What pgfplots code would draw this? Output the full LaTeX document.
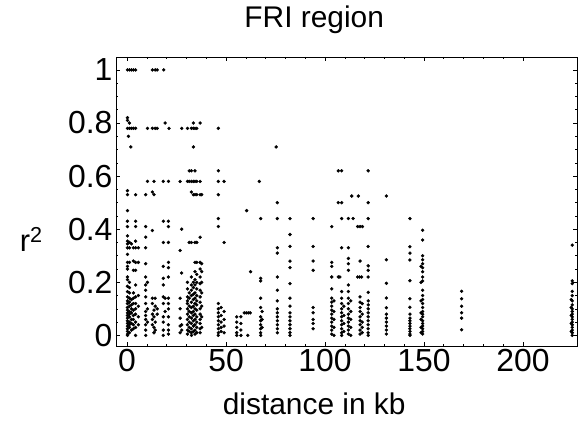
\documentclass[border=0pt]{standalone}
\usepackage{fontspec}
\setmainfont{Liberation Sans}
\usepackage{pgfplots}
\pgfplotsset{compat=1.18}
\begin{document}
\begin{tikzpicture}
\begin{axis}[
  name=ax,
  scale only axis,
  width=461bp, height=289bp,
  xmin=-5.6, xmax=227.3,
  ymin=-0.04, ymax=1.0487,
  xtick={0,50,100,150,200},
  minor x tick num=4,
  ytick={0,0.2,0.4,0.6,0.8,1},
  minor y tick num=3,
  tick align=inside,
  major tick length=4bp,
  minor tick length=2.5bp,
  axis line style={line width=0.8bp},
  every tick/.style={black,line width=0.6bp},
  /pgf/number format/assume math mode=true,
  tick label style={font=\fontsize{32}{37}\selectfont},
  title={FRI region},
  title style={font=\fontsize{30}{35}\selectfont, at={(0.43,1)}, anchor=base, yshift=23.7bp},
  xlabel={distance in kb},
  xlabel style={font=\fontsize{30}{35}\selectfont, at={(0.43,0)}, anchor=base, yshift=-68bp},
  ylabel={r\textsuperscript{2}},
  ylabel style={font=\fontsize{31}{36}\selectfont, at={(-0.184,0.367)}, anchor=center, rotate=-90},
]
\addplot[only marks, mark=*, mark size=1.5pt, black] coordinates {
(0.2,1.0)(0.2,0.82)(0.2,0.81)(0.2,0.78)(0.7,0.75)(0.2,0.545)(0.2,0.53)(0.2,0.47)(0.2,0.43)(0.2,0.41)(0.2,0.375)(0.2,0.355)(0.2,0.345)(0.2,0.33)(0.2,0.305)(0.2,0.275)(0.2,0.26)(0.2,0.25)(0.2,0.22)(0.2,0.21)(0.2,0.185)(0.2,0.165)(0.2,0.145)(0.2,0.13)(0.2,0.12)(0.2,0.105)(0.2,0.095)(0.2,0.085)(0.2,0.075)(0.2,0.065)(0.2,0.055)(0.2,0.045)(0.2,0.035)(0.2,0.025)(0.2,0.015)(0.2,0.005)(0.2,0.0)
(1.2,1.0)(1.2,0.80)(1.2,0.78)(1.2,0.35)(1.2,0.33)(1.2,0.275)(1.2,0.2)(1.2,0.18)(1.2,0.16)(1.2,0.14)(1.2,0.125)(1.2,0.11)(1.2,0.09)(1.2,0.08)(1.2,0.07)(1.2,0.05)(1.2,0.04)(1.2,0.03)(1.2,0.01)
(1.9,0.71)
(2.2,1.0)(2.2,0.78)(2.2,0.345)(2.2,0.135)(2.2,0.115)(2.2,0.1)(2.2,0.085)(2.2,0.06)(2.2,0.045)(2.2,0.02)
(3.2,1.0)(3.2,0.78)(3.2,0.33)(3.2,0.28)(3.2,0.245)(3.2,0.16)(3.2,0.14)(3.2,0.12)(3.2,0.095)(3.2,0.075)(3.2,0.06)(3.2,0.04)(3.2,0.025)
(4.3,1.0)(4.3,0.78)(4.3,0.53)(4.3,0.43)(4.3,0.41)(4.3,0.355)(4.3,0.33)(4.3,0.275)(4.3,0.245)(4.3,0.19)(4.3,0.145)(4.3,0.12)(4.3,0.1)(4.3,0.08)(4.3,0.05)(4.3,0.03)(4.3,0.0)
(5.7,0.33)(5.7,0.275)(5.7,0.15)(5.7,0.11)(5.7,0.07)(5.7,0.04)
(9.4,0.53)(9.4,0.41)(9.4,0.37)(9.4,0.33)(9.4,0.27)(9.4,0.22)(9.4,0.19)(9.4,0.17)(9.4,0.145)(9.4,0.12)(9.4,0.09)(9.4,0.075)(9.4,0.06)(9.4,0.04)(9.4,0.02)(9.4,0.0)
(10.3,0.78)(10.3,0.58)(10.3,0.2)(10.3,0.1)(10.3,0.05)
(12.8,1.0)(12.8,0.78)(12.8,0.54)(12.8,0.395)(12.8,0.14)(12.8,0.12)(12.8,0.08)(12.8,0.06)(12.8,0.04)
(13.6,0.58)(13.6,0.53)(13.6,0.095)(13.6,0.07)(13.6,0.03)(13.6,0.01)
(14.2,1.0)(14.2,0.78)(14.2,0.14)(14.2,0.11)(14.2,0.05)(14.2,0.02)
(15.2,1.0)(15.2,0.78)(15.2,0.1)(15.2,0.08)
(18.5,1.0)
(18.3,0.58)(18.3,0.43)(18.3,0.35)(18.3,0.26)(18.3,0.215)(18.3,0.19)(18.3,0.145)(18.3,0.12)(18.3,0.07)(18.3,0.05)(18.3,0.02)(18.3,0.0)
(19.2,0.80)(19.2,0.14)(19.2,0.09)
(20.9,0.58)(20.9,0.43)(20.9,0.41)(20.9,0.35)(20.9,0.275)(20.9,0.255)(20.9,0.22)(20.9,0.14)(20.9,0.12)(20.9,0.1)(20.9,0.07)(20.9,0.04)(20.9,0.02)(20.9,0.005)
(21.2,0.78)
(26.8,0.58)(26.8,0.32)(26.8,0.14)(26.8,0.1)(26.8,0.065)(26.8,0.035)(26.8,0.01)
(27.6,0.78)(27.6,0.4)(27.6,0.235)(27.6,0.04)(27.6,0.02)
(30.5,0.78)(30.5,0.58)(30.5,0.2)(30.5,0.175)(30.5,0.145)(30.5,0.13)(30.5,0.12)(30.5,0.1)(30.5,0.08)(30.5,0.06)(30.5,0.04)(30.5,0.02)(30.5,0.005)
(31.4,0.62)(31.4,0.58)(31.4,0.35)(31.4,0.16)(31.4,0.14)(31.4,0.11)(31.4,0.09)(31.4,0.07)(31.4,0.05)(31.4,0.03)(31.4,0.015)
(32.5,0.78)(32.5,0.62)(32.5,0.58)(32.5,0.54)(32.5,0.35)(32.5,0.22)(32.5,0.19)(32.5,0.17)(32.5,0.15)(32.5,0.125)(32.5,0.105)(32.5,0.085)(32.5,0.065)(32.5,0.045)(32.5,0.025)(32.5,0.01)(32.5,0.0)
(33.5,0.80)(33.5,0.78)(33.5,0.71)(33.5,0.58)(33.5,0.53)(33.5,0.2)(33.5,0.18)(33.5,0.155)(33.5,0.135)(33.5,0.11)(33.5,0.09)(33.5,0.075)(33.5,0.055)(33.5,0.035)(33.5,0.015)
(34.3,0.78)(34.3,0.62)(34.3,0.58)(34.3,0.53)(34.3,0.35)(34.3,0.275)(34.3,0.24)(34.3,0.21)(34.3,0.19)(34.3,0.16)(34.3,0.14)(34.3,0.12)(34.3,0.1)(34.3,0.08)(34.3,0.06)(34.3,0.04)(34.3,0.02)(34.3,0.005)
(35.2,0.78)(35.2,0.58)(35.2,0.53)(35.2,0.35)(35.2,0.275)(35.2,0.23)(35.2,0.2)(35.2,0.175)(35.2,0.15)(35.2,0.13)(35.2,0.115)(35.2,0.095)(35.2,0.07)(35.2,0.05)(35.2,0.03)(35.2,0.01)
(36.9,0.80)(36.9,0.58)(36.9,0.53)(36.9,0.37)(36.9,0.275)(36.9,0.25)(36.9,0.22)(36.9,0.195)(36.9,0.17)(36.9,0.145)(36.9,0.125)(36.9,0.1)(36.9,0.08)(36.9,0.06)(36.9,0.045)(36.9,0.025)(36.9,0.01)
(37.7,0.53)(37.7,0.27)(37.7,0.24)(37.7,0.2)(37.7,0.16)(37.7,0.11)(37.7,0.07)(37.7,0.03)
(46.1,0.78)(46.1,0.62)(46.1,0.58)(46.1,0.53)(46.1,0.44)(46.1,0.41)(46.1,0.12)(46.1,0.1)(46.1,0.085)(46.1,0.07)(46.1,0.055)(46.1,0.04)(46.1,0.025)(46.1,0.01)(46.1,0.0)
(47.5,0.105)(47.5,0.075)(47.5,0.05)(47.5,0.03)(47.5,0.015)
(49.0,0.58)(49.0,0.35)(49.0,0.09)(49.0,0.06)(49.0,0.035)(49.0,0.01)
(55.4,0.07)(55.4,0.05)(55.4,0.03)(55.4,0.01)(55.4,0.0)
(57.5,0.07)(57.5,0.045)(57.5,0.02)(57.5,0.0)
(59.2,0.085)(60.2,0.085)(61.2,0.085)(62.2,0.085)(60.4,0.47)(61.0,0.0)(62.4,0.24)
(66.8,0.58)
(67.5,0.44)(67.5,0.215)(67.5,0.205)(67.5,0.14)(67.5,0.105)(67.5,0.07)(67.5,0.055)(67.5,0.04)(67.5,0.025)(67.5,0.01)(67.5,0.0)
(68.2,0.09)(68.2,0.06)(68.2,0.03)
(75.3,0.71)
(75.9,0.50)(75.9,0.44)(75.9,0.33)(75.9,0.31)(75.9,0.22)(75.9,0.17)(75.9,0.13)(75.9,0.1)(75.9,0.085)(75.9,0.07)(75.9,0.055)(75.9,0.04)(75.9,0.025)(75.9,0.01)
(82.3,0.44)(82.3,0.38)(82.3,0.335)(82.3,0.28)(82.3,0.255)(82.3,0.195)(82.3,0.14)(82.3,0.11)(82.3,0.085)(82.3,0.07)(82.3,0.055)(82.3,0.04)(82.3,0.025)(82.3,0.01)(82.3,0.0)
(94.0,0.44)(94.0,0.335)(94.0,0.28)(94.0,0.245)(94.0,0.105)(94.0,0.085)(94.0,0.06)(94.0,0.045)(94.0,0.025)
(103.4,0.41)(103.4,0.275)(103.4,0.26)(103.4,0.22)(103.4,0.175)(103.4,0.14)(103.4,0.125)(103.4,0.11)(103.4,0.095)(103.4,0.08)(103.4,0.065)(103.4,0.05)(103.4,0.035)(103.4,0.02)(103.4,0.005)
(104.5,0.13)(104.5,0.09)(104.5,0.06)(104.5,0.03)(104.5,0.0)
(106.7,0.62)(106.7,0.50)(106.7,0.22)(107.5,0.22)
(108.4,0.62)(108.4,0.50)(108.4,0.44)(108.4,0.33)(108.4,0.165)(108.4,0.14)(108.4,0.12)(108.4,0.1)(108.4,0.085)(108.4,0.07)(108.4,0.055)(108.4,0.04)(108.4,0.025)(108.4,0.01)(108.4,0.0)
(109.5,0.11)(109.5,0.075)(109.5,0.045)(109.5,0.015)
(111.8,0.44)(111.8,0.33)(111.8,0.29)(111.8,0.27)(111.8,0.245)(111.8,0.19)(111.8,0.165)(111.8,0.14)(111.8,0.12)(111.8,0.1)(111.8,0.08)(111.8,0.065)(111.8,0.05)(111.8,0.035)(111.8,0.02)(111.8,0.005)
(113.0,0.13)(113.0,0.09)(113.0,0.06)(113.0,0.03)(113.0,0.0)
(113.5,0.525)(116.8,0.525)(114.2,0.44)
(116.5,0.41)(117.7,0.41)(118.9,0.41)
(116.5,0.22)(117.5,0.22)(118.5,0.22)
(117.7,0.28)(117.7,0.145)(117.7,0.125)(117.7,0.105)(117.7,0.09)(117.7,0.07)(117.7,0.055)(117.7,0.04)(117.7,0.02)(117.7,0.005)
(118.8,0.12)(118.8,0.08)(118.8,0.05)(118.8,0.03)(118.8,0.01)
(121.8,0.62)(121.8,0.50)(121.8,0.44)(121.8,0.335)(121.8,0.262)(121.8,0.245)(121.8,0.22)(121.8,0.162)(121.8,0.13)(121.8,0.115)(121.8,0.1)(121.8,0.085)(121.8,0.07)(121.8,0.055)(121.8,0.04)(121.8,0.025)(121.8,0.01)(121.8,0.0)
(131.0,0.525)(131.0,0.285)(131.0,0.196)(131.0,0.141)(131.0,0.104)(131.0,0.08)(131.0,0.065)(131.0,0.05)(131.0,0.035)(131.0,0.02)(131.0,0.005)
(142.9,0.44)(142.9,0.334)(142.9,0.31)(142.9,0.284)(142.9,0.206)(142.9,0.138)(142.9,0.106)(142.9,0.08)(142.9,0.065)(142.9,0.055)(142.9,0.045)(142.9,0.035)(142.9,0.025)(142.9,0.015)(142.9,0.005)(142.9,0.0)
(149.3,0.396)(149.3,0.359)(149.3,0.3)(149.3,0.285)(149.3,0.27)(149.3,0.255)(149.3,0.24)(149.3,0.22)(149.3,0.205)(149.3,0.17)(149.3,0.15)(149.3,0.135)(149.3,0.12)(149.3,0.105)(149.3,0.09)(149.3,0.08)(149.3,0.07)(149.3,0.055)(149.3,0.045)(149.3,0.035)(149.3,0.025)(149.3,0.015)(149.3,0.005)
(148.5,0.26)(148.5,0.2)(148.5,0.13)(148.5,0.085)(148.5,0.06)(148.5,0.03)(148.5,0.01)
(169.0,0.166)(169.0,0.138)(169.0,0.11)(169.0,0.085)(169.0,0.065)(169.0,0.021)
(224.9,0.34)(224.9,0.205)(224.9,0.195)(224.9,0.166)(224.9,0.15)(224.9,0.13)(224.9,0.115)(224.9,0.1)(224.9,0.09)(224.9,0.08)(224.9,0.07)(224.9,0.06)(224.9,0.05)(224.9,0.04)(224.9,0.03)(224.9,0.02)(224.9,0.01)(224.9,0.0)
(224.4,0.135)(224.4,0.105)(224.4,0.075)(224.4,0.045)(224.4,0.015)
};
\end{axis}
\pgfresetboundingbox
\path[use as bounding box] ([xshift=-116bp,yshift=-80bp]ax.south west) rectangle ([xshift=3bp,yshift=57bp]ax.north east);
\end{tikzpicture}
\end{document}
